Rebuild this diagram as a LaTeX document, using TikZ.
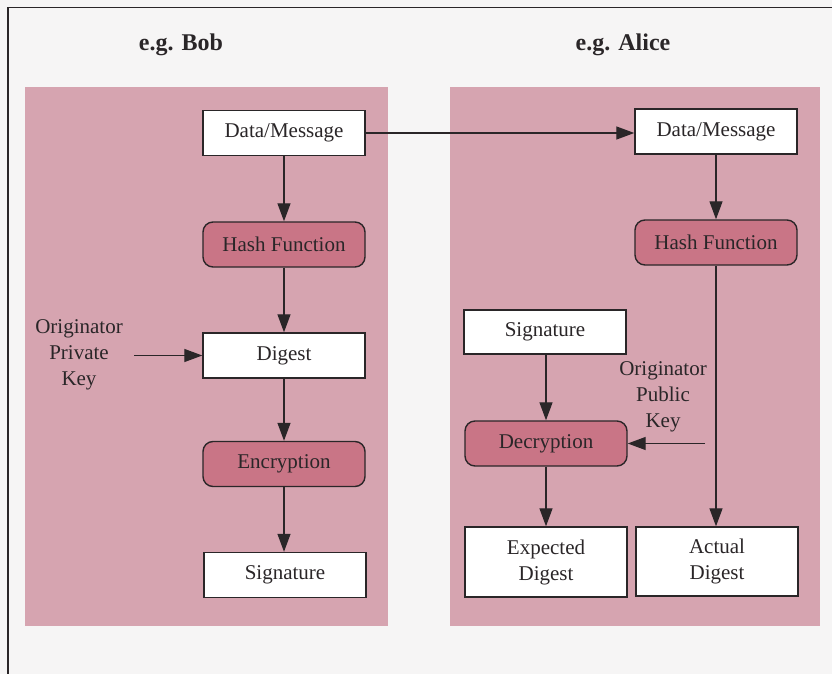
\documentclass[tikz,border=0pt]{standalone}
\usepackage{fontspec}
\setmainfont{Liberation Serif}
\usetikzlibrary{arrows.meta}

\definecolor{paper}{RGB}{246,245,245}
\definecolor{panelpink}{RGB}{214,164,176}
\definecolor{procpink}{RGB}{201,117,134}
\definecolor{ink}{RGB}{42,38,40}

\begin{document}
\begin{tikzpicture}[x=1pt,y=-1pt,
  databox/.style={draw=ink, line width=1.4pt, fill=white, minimum width=162pt,
    minimum height=45pt, inner sep=0pt, text=ink, align=center,
    font=\fontsize{21}{26}\selectfont},
  procbox/.style={databox, fill=procpink, rounded corners=10pt},
  flow/.style={draw=ink, line width=1.3pt, -{Triangle[length=18pt,width=13pt]}},
  keylabel/.style={text=ink, align=center, font=\fontsize{21}{26}\selectfont},
  title/.style={text=ink, font=\fontsize{24}{28}\selectfont\bfseries},
  panel/.style={fill=panelpink, draw=none}]

  % page and frame
  \useasboundingbox (0,0) rectangle (832,674);
  \fill[paper] (0,0) rectangle (832,674);
  \draw[ink, line width=1.5pt] (8,674) -- (8,7.5) -- (832,7.5);

  % column backgrounds
  \fill[panel] (25,87) rectangle (388,626);
  \fill[panel] (450,87) rectangle (820,626);

  % column headings
  \node[title] (bobtitle) at (181,45) {e.g. Bob};
  \node[title] (alicetitle) at (623,45) {e.g. Alice};

  % signing side
  \node[databox] (bdata) at (284,133) {Data/Message};
  \node[procbox] (bhash) at (284,244.5) {Hash Function};
  \node[databox] (bdig)  at (284,355.5) {Digest};
  \node[procbox] (benc)  at (284,464) {Encryption};
  \node[databox] (bsig)  at (285,575) {Signature};
  \node[keylabel] (bkey) at (79,355) {Originator\\Private\\Key};
  \coordinate (bkeyend) at (134,355.5);

  % verifying side
  \node[databox] (adata) at (716,131.5) {Data/Message};
  \node[procbox] (ahash) at (716,242.5) {Hash Function};
  \node[databox, minimum height=69pt] (aact) at (717,561.5) {Actual\\Digest};
  \node[databox, minimum height=44pt] (asig) at (545,332) {Signature};
  \node[procbox] (adec)  at (546,443.5) {Decryption};
  \node[databox, minimum height=70pt] (aexp) at (546,562) {Expected\\Digest};
  \node[keylabel] (akey) at (663,397) {Originator\\Public\\Key};
  \coordinate (akeyend) at (705,443.5);

  % connectors
  \draw[flow] (bdata) -- (bhash);
  \draw[flow] (bhash) -- (bdig);
  \draw[flow] (bdig) -- (benc);
  \draw[flow] (benc.south) -- (benc.south |- bsig.north);
  \draw[flow] (bkeyend) -- (bdig.west);
  \draw[flow] (bdata.east) -- (adata.west |- bdata.east);
  \draw[flow] (adata) -- (ahash);
  \draw[flow] (ahash.south) -- (ahash.south |- aact.north);
  \draw[flow] (adec.north |- asig.south) -- (adec.north);
  \draw[flow] (adec) -- (aexp);
  \draw[flow] (akeyend) -- (adec.east);
\end{tikzpicture}
\end{document}
